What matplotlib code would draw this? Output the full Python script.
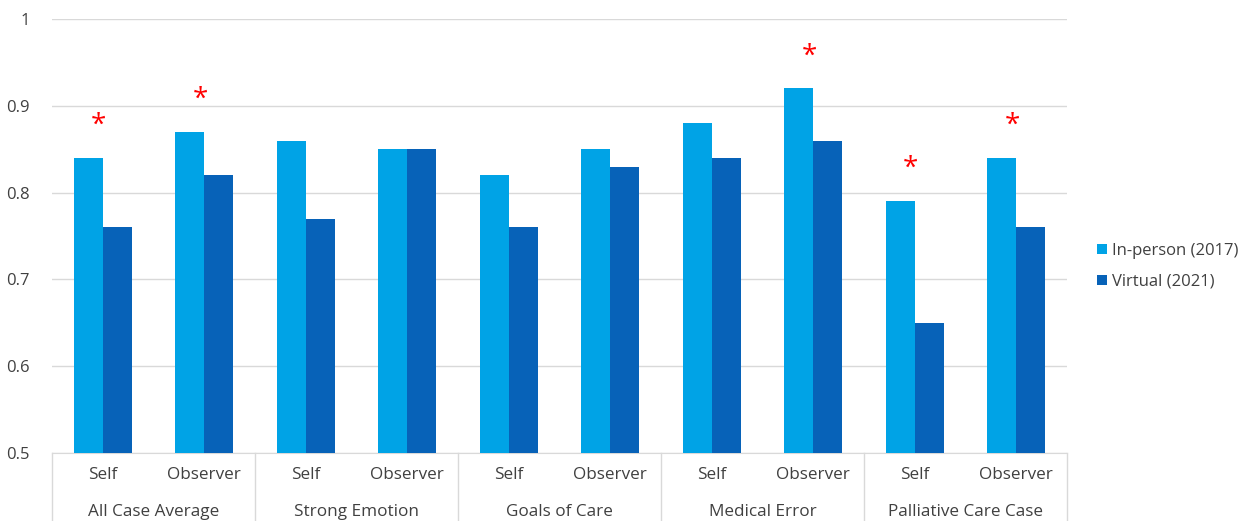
import numpy as np
import matplotlib
matplotlib.use("Agg")
import matplotlib.pyplot as plt

# ===============================
# Data
# ===============================

groups = ["All Case Average", "Strong Emotion", "Goals of Care",
          "Medical Error", "Palliative Care Case"]
roles = ["Self", "Observer"]

in_person = [0.84, 0.87, 0.86, 0.85, 0.82, 0.85, 0.88, 0.92, 0.79, 0.84]
virtual = [0.76, 0.82, 0.77, 0.85, 0.76, 0.83, 0.84, 0.86, 0.65, 0.76]
significant = [True, True, False, False, False, False, False, True, True, True]

light = "#00A3E6"
dark = "#0762B8"

plt.rcParams['font.family'] = ['Open Sans', 'DejaVu Sans']

# ===============================
# Plot
# ===============================

fig = plt.figure(figsize=(12.48, 5.21), dpi=100)
ax = fig.add_axes([52 / 1248, 1 - 453 / 521, 1015 / 1248, 434 / 521])

x = np.arange(len(in_person))
w = 0.285

ax.bar(x - w / 2, in_person, w, color=light, label="In-person (2017)", zorder=3)
ax.bar(x + w / 2, virtual, w, color=dark, label="Virtual (2021)", zorder=3)

for i in range(len(x)):
    if significant[i]:
        top = max(in_person[i], virtual[i])
        ax.text(x[i] - 0.04, top + 0.037, "*", color="#FF0000", fontsize=20,
                ha="center", va="center", zorder=4)

ax.set_xlim(-0.5, len(x) - 0.5)
ax.set_ylim(0.5, 1.0)
ax.set_yticks([0.5, 0.6, 0.7, 0.8, 0.9, 1.0])
ax.set_yticklabels(["0.5", "0.6", "0.7", "0.8", "0.9", "1"])
ax.yaxis.grid(True, color="#D9D9D9", linewidth=1, zorder=0)
ax.tick_params(axis="y", length=0, labelsize=12, colors="#404040", pad=16)
ax.set_xticks([])
for s in ["top", "right", "left"]:
    ax.spines[s].set_visible(False)
ax.spines["bottom"].set_color("#D9D9D9")

# sub-labels and group labels
for i in range(len(x)):
    ax.text(x[i], -0.05, roles[i % 2], transform=ax.get_xaxis_transform(),
            ha="center", va="center", fontsize=12.3, color="#404040")
for g in range(len(groups)):
    ax.text(2 * g + 0.5, -0.135, groups[g], transform=ax.get_xaxis_transform(),
            ha="center", va="center", fontsize=12.3, color="#404040")

# separators between groups
for b in np.arange(-0.5, len(x), 2):
    ax.plot([b, b], [0, -0.2], transform=ax.get_xaxis_transform(),
            color="#D9D9D9", linewidth=1, clip_on=False)

ax.legend(loc="center left", bbox_to_anchor=(1.015, 0.43), frameon=False,
          fontsize=12, handlelength=0.6, handleheight=0.6, handletextpad=0.3,
          labelspacing=0.9, labelcolor="#404040")

fig.savefig("out.png", dpi=100)
